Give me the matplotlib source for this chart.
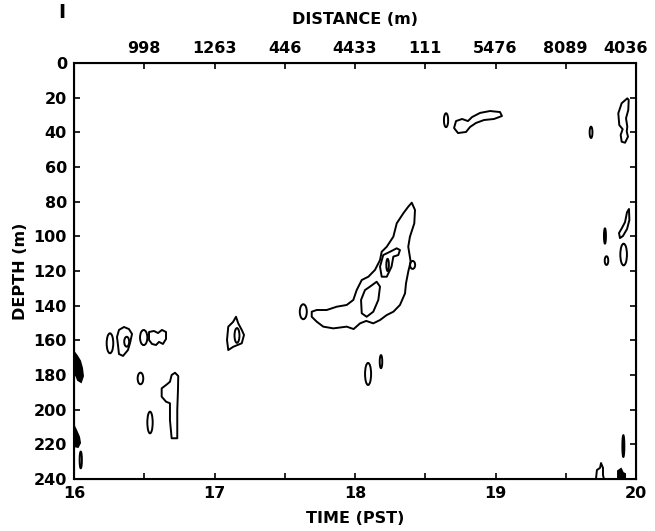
import matplotlib
matplotlib.use("Agg")
import matplotlib.pyplot as plt
from matplotlib.patches import Ellipse, Polygon
from matplotlib.transforms import ScaledTranslation

plt.rcParams['font.family'] = ['DejaVu Sans']
plt.rcParams['font.weight'] = 'bold'

# ---- axes ----
time_ticks = [16, 17, 18, 19, 20]
time_minor = [16.5, 17.5, 18.5, 19.5]
depth_ticks = [0, 20, 40, 60, 80, 100, 120, 140, 160, 180, 200, 220, 240]
dist_pos = [16.5, 17.0, 17.5, 18.0, 18.5, 19.0, 19.5, 20.0]
dist_labels = ['998', '1263', '446', '4433', '111', '5476', '8089', '4036']

# ---- contour outlines (time in hours PST, depth in m) ----
# main scattering layer, outer contour
layer_t = [18.404, 18.427, 18.422, 18.391, 18.379, 18.396, 18.379, 18.363, 18.356,
           18.320, 18.273, 18.226, 18.178, 18.130, 18.080, 18.036, 17.990, 17.941,
           17.846, 17.774, 17.727, 17.692, 17.692, 17.727, 17.799, 17.870, 17.941,
           17.988, 18.012, 18.048, 18.095, 18.142, 18.178, 18.190, 18.226, 18.273,
           18.297, 18.344, 18.379]
layer_d = [80.6, 84.8, 92.5, 100.2, 106.0, 114.6, 120.4, 127.1, 132.9,
           139.6, 143.5, 145.4, 148.3, 150.2, 148.8, 150.2, 153.5, 152.1,
           153.1, 152.1, 149.2, 146.4, 143.5, 142.5, 142.5, 140.6, 139.6,
           136.7, 131.0, 125.2, 123.3, 119.4, 113.7, 108.9, 106.0, 100.2,
           92.5, 86.7, 82.9]
# main layer, upper inner contour
core1_t = [18.190, 18.178, 18.201, 18.249, 18.297, 18.320, 18.308, 18.273, 18.260, 18.226]
core1_d = [123.3, 117.5, 110.8, 108.9, 106.9, 107.9, 110.8, 111.7, 117.5, 123.3]
# main layer, lower inner contour
core2_t = [18.107, 18.154, 18.178, 18.166, 18.130, 18.083, 18.048, 18.043, 18.071]
core2_d = [129.0, 126.2, 129.0, 136.7, 143.5, 146.4, 144.4, 136.7, 131.0]
# patch at 18.7-19.0 h, near 30 m
patch_a_t = [18.705, 18.719, 18.762, 18.804, 18.833, 18.890, 18.961, 19.032, 19.046,
             18.989, 18.918, 18.861, 18.819, 18.790, 18.733]
patch_a_d = [37.5, 33.5, 32.3, 33.5, 31.2, 28.8, 27.7, 28.3, 30.6,
             32.3, 32.9, 34.6, 36.9, 39.8, 40.4]
# patch at 19.9 h, 20-46 m
patch_b_t = [19.938, 19.898, 19.874, 19.881, 19.905, 19.891, 19.898, 19.922, 19.943,
             19.934, 19.938, 19.929, 19.945, 19.948]
patch_b_d = [20.4, 23.2, 29.0, 35.8, 38.2, 41.5, 45.4, 46.0, 42.5,
             39.6, 36.7, 31.9, 27.1, 21.3]
# patch at 19.9 h, 84-101 m
patch_c_t = [19.950, 19.953, 19.936, 19.907, 19.886, 19.879, 19.900, 19.922, 19.936]
patch_c_d = [84.2, 90.6, 95.8, 99.8, 101.0, 98.1, 95.2, 91.8, 86.1]
# patch at 16.3-16.4 h, ~160 m
patch_d_t = [16.320, 16.356, 16.391, 16.413, 16.399, 16.384, 16.349, 16.320, 16.313, 16.306]
patch_d_d = [154.0, 152.3, 153.5, 156.3, 161.5, 165.6, 169.0, 167.9, 162.7, 158.1]
# patch at 16.55-16.65 h, ~158 m
patch_e_t = [16.534, 16.569, 16.598, 16.626, 16.655, 16.655, 16.633, 16.605, 16.584,
             16.555, 16.534]
patch_e_d = [155.2, 154.6, 155.8, 154.0, 155.2, 159.2, 162.1, 160.9, 162.7,
             162.1, 159.8]
# patch at 16.7 h, 179-217 m
patch_f_t = [16.719, 16.742, 16.740, 16.735, 16.735, 16.695, 16.683, 16.683, 16.655,
             16.624, 16.624, 16.655, 16.683, 16.695]
patch_f_d = [178.7, 180.6, 188.6, 200.2, 216.5, 216.5, 206.0, 196.3, 195.4,
             192.5, 187.7, 185.8, 183.9, 180.0]
# patch at 17.15 h, ~155 m
patch_g_t = [17.153, 17.169, 17.194, 17.210, 17.194, 17.134, 17.098, 17.089, 17.098, 17.132]
patch_g_d = [146.4, 150.2, 154.0, 156.9, 161.7, 163.7, 165.6, 159.8, 152.1, 149.4]
# open contour reaching the bottom edge at 19.75 h
edge_a_t = [19.715, 19.722, 19.744, 19.751, 19.765, 19.765, 19.772]
edge_a_d = [240.0, 234.8, 233.6, 230.8, 233.6, 237.7, 240.0]

# dense (nested) contours drawn solid
dense1_t = [16.000, 16.021, 16.043, 16.057, 16.064, 16.050, 16.028, 16.014, 16.000]
dense1_d = [166.7, 169.0, 171.9, 176.0, 180.6, 184.0, 182.9, 180.0, 179.4]
dense2_t = [16.000, 16.014, 16.036, 16.043, 16.028, 16.000]
dense2_d = [209.4, 211.7, 215.8, 219.2, 221.5, 221.0]
dense3_t = [19.872, 19.872, 19.893, 19.907, 19.922, 19.922]
dense3_d = [240.0, 235.4, 234.2, 236.5, 237.1, 240.0]

# small closed contours: centre time, centre depth, width (h), height (m)
oval_t = [17.632, 18.410, 18.093, 18.185, 18.648, 19.680, 19.912, 19.779, 19.790,
          19.910, 16.256, 16.375, 16.496, 16.473, 16.541, 17.160, 18.232, 16.048]
oval_d = [143.5, 116.5, 179.4, 172.3, 33.0, 40.0, 110.5, 99.8, 114.0,
          221.0, 161.7, 160.8, 158.4, 182.0, 207.4, 157.2, 116.5, 229.0]
oval_w = [0.050, 0.036, 0.043, 0.018, 0.030, 0.020, 0.047, 0.014, 0.025,
          0.014, 0.047, 0.035, 0.052, 0.040, 0.038, 0.035, 0.018, 0.016]
oval_h = [8.6, 4.6, 12.7, 7.5, 8.0, 6.5, 12.5, 8.7, 5.0,
          12.5, 11.5, 5.7, 8.7, 6.7, 12.5, 8.5, 7.0, 9.6]

FS = 11.5
fig = plt.figure(figsize=(6.55, 5.31), dpi=100)
ax = fig.add_axes([74 / 655, 1 - 479 / 531, 562 / 655, 416 / 531])

LW = 1.4
closed = [(layer_t, layer_d), (core1_t, core1_d), (core2_t, core2_d),
          (patch_a_t, patch_a_d), (patch_b_t, patch_b_d), (patch_c_t, patch_c_d),
          (patch_d_t, patch_d_d), (patch_e_t, patch_e_d), (patch_f_t, patch_f_d),
          (patch_g_t, patch_g_d)]
for t, d in closed:
    ax.add_patch(Polygon(list(zip(t, d)), closed=True, fill=False,
                         edgecolor='black', linewidth=LW, joinstyle='round'))

ax.plot(edge_a_t, edge_a_d, color='black', linewidth=LW)

for t, d in [(dense1_t, dense1_d), (dense2_t, dense2_d), (dense3_t, dense3_d)]:
    ax.add_patch(Polygon(list(zip(t, d)), closed=True, facecolor='black',
                         edgecolor='black', linewidth=LW))

for t, d, w, h in zip(oval_t, oval_d, oval_w, oval_h):
    ax.add_patch(Ellipse((t, d), w, h, fill=False, edgecolor='black', linewidth=LW))

ax.set_xlim(16, 20)
ax.set_ylim(240, 0)
ax.set_xticks(time_ticks)
ax.set_xticks(time_minor, minor=True)
ax.set_yticks(depth_ticks)
ax.tick_params(which='both', direction='in', length=4, width=1.2,
               right=True, labelsize=FS, pad=5)
for s in ax.spines.values():
    s.set_linewidth(1.5)
ax.set_xlabel('TIME (PST)', fontsize=FS, fontweight='bold', labelpad=7)
ax.set_ylabel('DEPTH (m)', fontsize=FS, fontweight='bold', labelpad=4)

top = ax.twiny()
top.set_xlim(16, 20)
top.set_xticks(dist_pos)
top.set_xticklabels(dist_labels)
top.tick_params(direction='in', length=4, width=1.2, labelsize=FS, pad=5)
last = top.get_xticklabels()[-1]
last.set_transform(last.get_transform() + ScaledTranslation(-0.1, 0, fig.dpi_scale_trans))
top.set_xlabel('DISTANCE (m)', fontsize=FS, fontweight='bold', labelpad=12)

fig.text(62 / 655, 1 - 12 / 531, 'I', fontsize=14, fontweight='bold',
         ha='center', va='center')

fig.savefig('out.png', dpi=100)
